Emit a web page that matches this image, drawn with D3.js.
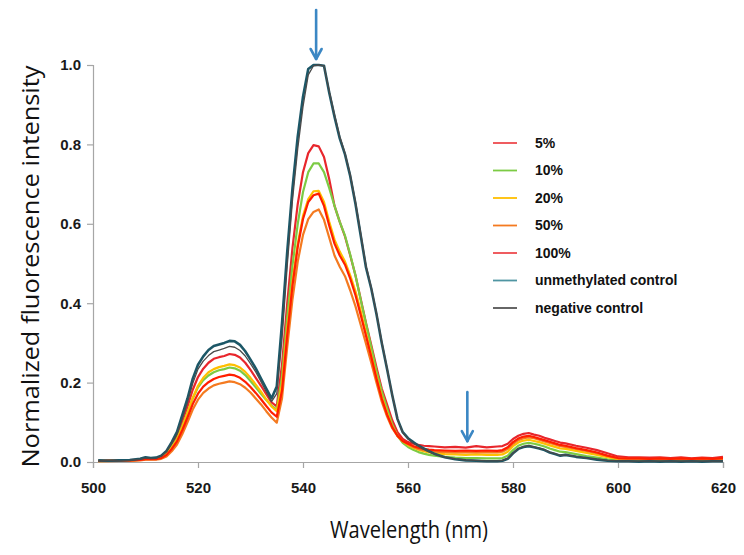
<!DOCTYPE html>
<html>
<head>
<meta charset="utf-8">
<script src="https://cdn.jsdelivr.net/npm/d3@7"></script>
<style>
  html, body { margin: 0; padding: 0; background: #fff; }
  svg { display: block; }
</style>
</head>
<body>
<svg id="chart" width="744" height="555"></svg>
<script>
// ---------------- DATA ----------------
const wavelengths = [
  501,503,505,507,509,
  510,511,512,513,514,515,516,517,518,519,
  520,521,522,523,524,525,526,527,528,529,
  530,531,532,533,534,535,536,537,538,539,
  540,541,542,543,544,545,546,547,548,549,
  550,551,552,553,554,555,556,557,558,559,
  560,561,562,563,564,565,
  567,569,571,573,575,577,
  578,579,580,581,582,583,584,585,586,587,588,589,590,
  592,594,596,598,600,602,604,606,608,610,612,614,616,618,620
];

const seriesNames = ["5%", "10%", "20%", "50%", "100%", "unmethylated control", "negative control"];

const values5 = [
  0.003,0.004,0.003,0.005,0.006,
  0.009,0.008,0.009,0.013,0.024,0.044,0.066,0.102,0.140,0.182,
  0.214,0.235,0.250,0.260,0.264,0.267,0.272,0.270,0.263,0.250,
  0.232,0.212,0.192,0.171,0.150,0.140,0.245,0.400,0.540,0.650,
  0.730,0.778,0.798,0.795,0.768,0.712,0.645,0.605,0.568,0.520,
  0.470,0.410,0.350,0.295,0.238,0.185,0.145,0.105,0.075,0.058,
  0.050,0.046,0.043,0.041,0.040,0.039,
  0.037,0.038,0.036,0.040,0.037,0.039,
  0.040,0.046,0.058,0.066,0.071,0.073,0.069,0.066,0.061,0.057,0.053,0.049,0.047,
  0.041,0.036,0.030,0.022,0.014,0.012,0.012,0.011,0.012,0.010,0.012,0.009,0.011,0.010,0.013
];
const values10 = [
  0.003,0.003,0.004,0.004,0.006,
  0.008,0.008,0.009,0.012,0.021,0.038,0.058,0.090,0.124,0.160,
  0.188,0.206,0.218,0.226,0.231,0.234,0.238,0.236,0.230,0.219,
  0.204,0.188,0.172,0.156,0.142,0.132,0.215,0.365,0.495,0.600,
  0.680,0.730,0.752,0.752,0.730,0.690,0.645,0.605,0.570,0.522,
  0.470,0.408,0.348,0.290,0.230,0.178,0.135,0.095,0.066,0.048,
  0.038,0.031,0.025,0.021,0.018,0.016,
  0.013,0.011,0.010,0.010,0.009,0.009,
  0.010,0.016,0.030,0.041,0.046,0.048,0.046,0.043,0.039,0.034,0.030,0.026,0.025,
  0.020,0.015,0.011,0.007,0.004,0.004,0.003,0.004,0.003,0.004,0.003,0.004,0.003,0.004,0.004
];
const values20 = [
  0.002,0.003,0.003,0.004,0.005,
  0.007,0.007,0.008,0.011,0.020,0.036,0.056,0.088,0.124,0.162,
  0.192,0.212,0.226,0.234,0.239,0.242,0.246,0.244,0.238,0.227,
  0.212,0.195,0.177,0.158,0.140,0.128,0.195,0.335,0.455,0.550,
  0.620,0.662,0.682,0.683,0.655,0.605,0.560,0.530,0.505,0.470,
  0.430,0.380,0.325,0.270,0.215,0.165,0.125,0.090,0.066,0.052,
  0.043,0.036,0.031,0.027,0.024,0.022,
  0.020,0.019,0.018,0.019,0.018,0.018,
  0.019,0.026,0.040,0.049,0.054,0.056,0.053,0.050,0.046,0.042,0.038,0.034,0.033,
  0.028,0.023,0.018,0.012,0.007,0.006,0.006,0.006,0.005,0.006,0.005,0.006,0.005,0.006,0.006
];
const values50 = [
  0.002,0.002,0.003,0.003,0.004,
  0.006,0.006,0.006,0.008,0.014,0.027,0.044,0.070,0.100,0.132,
  0.157,0.174,0.185,0.193,0.197,0.200,0.203,0.201,0.196,0.187,
  0.175,0.160,0.145,0.128,0.112,0.099,0.160,0.290,0.410,0.505,
  0.572,0.612,0.630,0.636,0.610,0.565,0.520,0.492,0.468,0.432,
  0.392,0.345,0.298,0.250,0.200,0.152,0.115,0.085,0.065,0.052,
  0.045,0.038,0.033,0.030,0.028,0.026,
  0.025,0.024,0.025,0.024,0.025,0.024,
  0.026,0.033,0.046,0.055,0.060,0.062,0.060,0.056,0.052,0.048,0.044,0.040,0.038,
  0.033,0.028,0.022,0.015,0.009,0.008,0.008,0.007,0.008,0.007,0.008,0.007,0.008,0.007,0.008
];
const values100 = [
  0.003,0.003,0.004,0.004,0.005,
  0.007,0.007,0.007,0.010,0.018,0.033,0.052,0.080,0.112,0.146,
  0.172,0.190,0.201,0.209,0.214,0.217,0.220,0.218,0.212,0.202,
  0.189,0.174,0.158,0.141,0.125,0.114,0.180,0.320,0.445,0.542,
  0.612,0.655,0.672,0.676,0.645,0.595,0.550,0.520,0.497,0.462,
  0.420,0.370,0.318,0.265,0.210,0.160,0.120,0.088,0.066,0.053,
  0.046,0.040,0.036,0.033,0.031,0.030,
  0.029,0.028,0.029,0.028,0.029,0.028,
  0.030,0.037,0.050,0.059,0.064,0.066,0.063,0.059,0.055,0.051,0.047,0.043,0.041,
  0.035,0.030,0.024,0.016,0.010,0.009,0.009,0.008,0.009,0.008,0.009,0.008,0.009,0.008,0.010
];
const valuesUnmethylated = [
  0.004,0.003,0.004,0.005,0.008,
  0.012,0.010,0.011,0.016,0.028,0.050,0.076,0.118,0.160,0.210,
  0.245,0.266,0.282,0.292,0.296,0.300,0.305,0.304,0.295,0.279,
  0.258,0.236,0.210,0.185,0.160,0.190,0.350,0.530,0.690,0.820,
  0.920,0.990,1.000,1.000,0.998,0.930,0.870,0.815,0.775,0.720,
  0.650,0.570,0.490,0.437,0.372,0.300,0.235,0.168,0.108,0.075,
  0.060,0.050,0.041,0.034,0.027,0.021,
  0.012,0.007,0.004,0.003,0.002,0.002,
  0.003,0.008,0.022,0.033,0.038,0.040,0.037,0.034,0.030,0.024,0.020,0.016,0.018,
  0.013,0.010,0.006,0.003,0.002,0.002,0.001,0.002,0.001,0.002,0.001,0.002,0.001,0.002,0.002
];
const valuesNegative = [
  0.003,0.004,0.003,0.004,0.007,
  0.010,0.009,0.010,0.015,0.026,0.047,0.070,0.110,0.150,0.198,
  0.234,0.254,0.268,0.278,0.282,0.286,0.291,0.289,0.281,0.267,
  0.248,0.227,0.202,0.177,0.152,0.172,0.310,0.495,0.660,0.790,
  0.895,0.975,0.998,1.000,0.998,0.935,0.875,0.820,0.778,0.724,
  0.655,0.575,0.495,0.440,0.375,0.303,0.237,0.169,0.108,0.074,
  0.058,0.048,0.040,0.033,0.026,0.020,
  0.012,0.008,0.005,0.004,0.003,0.003,
  0.004,0.009,0.022,0.034,0.039,0.041,0.038,0.035,0.031,0.025,0.021,0.017,0.018,
  0.014,0.010,0.007,0.004,0.003,0.002,0.002,0.002,0.002,0.002,0.002,0.002,0.002,0.002,0.002
];

const xTicks = [500, 520, 540, 560, 580, 600, 620];
const yTicks = [0.0, 0.2, 0.4, 0.6, 0.8, 1.0];
const arrowWavelengths = [542.5, 571.3];   // annotation arrows
const arrowLevels = [1.0, 0.045];           // value level the arrow points at

// ---------------- STYLE ----------------
const colors = ["#e8262c", "#7ccb44", "#ffbf00", "#f47a20", "#ff1e00", "#1c5767", "#4a4a4a"];
const legendColors = ["#ee4a4f", "#7ccb44", "#ffbf00", "#f47a20", "#ee4a4f", "#4f95a2", "#555555"];
const widths = [2.2, 2.2, 2.2, 2.2, 2.2, 2.6, 1.3];
const allValues = [values5, values10, values20, values50, values100, valuesUnmethylated, valuesNegative];

const svg = d3.select("#chart");
const margin = { left: 93, right: 21, top: 65, bottom: 93 };
const W = 744, H = 555;

const x = d3.scaleLinear().domain([500, 620]).range([margin.left, W - margin.right]);
const y = d3.scaleLinear().domain([0, 1]).range([H - margin.bottom, margin.top]);

const axisColor = "#a6a6a6";
const tickFont = "'Liberation Sans Narrow', 'Liberation Sans', Arial, sans-serif";

// Y axis
const yAxis = svg.append("g")
  .attr("transform", `translate(${margin.left},0)`)
  .call(d3.axisLeft(y).tickValues(yTicks).tickFormat(d3.format(".1f")).tickSize(6).tickPadding(6));
// X axis
const xAxis = svg.append("g")
  .attr("transform", `translate(0,${y(0)})`)
  .call(d3.axisBottom(x).tickValues(xTicks).tickFormat(d3.format("d")).tickSize(6).tickPadding(14));

[yAxis, xAxis].forEach(g => {
  g.selectAll("path.domain").attr("stroke", axisColor).attr("stroke-width", 1.2);
  g.selectAll(".tick line").attr("stroke", axisColor).attr("stroke-width", 1.2);
  g.selectAll(".tick text")
    .attr("fill", "#1a1a1a")
    .style("font-family", tickFont)
    .style("font-weight", "bold")
    .style("font-size", "15px");
});

// Lines
const line = d3.line()
  .x((d, i) => x(wavelengths[i]))
  .y(d => y(d))
  .curve(d3.curveLinear);

const gLines = svg.append("g");
allValues.forEach((vals, k) => {
  gLines.append("path")
    .datum(vals)
    .attr("fill", "none")
    .attr("stroke", colors[k])
    .attr("stroke-width", widths[k])
    .attr("stroke-linejoin", "round")
    .attr("d", line);
});

// Arrows
const arrowColor = "#3b87c4";
arrowWavelengths.forEach((w, i) => {
  const ax = x(w);
  const tipY = y(arrowLevels[i]) - (i === 0 ? 6 : 3);
  const topY = tipY - 49;
  const g = svg.append("g").attr("stroke", arrowColor).attr("stroke-width", 2.6)
    .attr("fill", "none").attr("stroke-linecap", "round");
  g.append("line").attr("x1", ax).attr("x2", ax).attr("y1", topY).attr("y2", tipY);
  g.append("path").attr("d", `M${ax - 5.5},${tipY - 10} L${ax},${tipY} L${ax + 5.5},${tipY - 10}`)
    .attr("stroke-linejoin", "round");
});

// Legend
const legend = svg.append("g").attr("transform", "translate(493,143)");
seriesNames.forEach((name, k) => {
  const row = legend.append("g").attr("transform", `translate(0,${k * 27.5})`);
  row.append("line").attr("x1", 0).attr("x2", 24).attr("y1", 0).attr("y2", 0)
    .attr("stroke", legendColors[k]).attr("stroke-width", 1.8);
  row.append("text").attr("x", 42).attr("y", 0).attr("dy", "0.35em")
    .text(name)
    .attr("fill", "#111")
    .style("font-family", "'Liberation Sans', Arial, sans-serif")
    .style("font-weight", "bold")
    .style("font-size", "14px");
});

// Axis titles
svg.append("text")
  .attr("x", 409)
  .attr("y", 538)
  .attr("text-anchor", "middle")
  .attr("fill", "#111")
  .attr("textLength", 158)
  .attr("lengthAdjust", "spacingAndGlyphs")
  .style("font-family", "'Open Sans', 'Noto Sans', sans-serif")
  .style("font-size", "24px")
  .text("Wavelength (nm)");

svg.append("text")
  .attr("transform", `translate(39,${(y(0) + y(1)) / 2 + 3}) rotate(-90)`)
  .attr("text-anchor", "middle")
  .attr("fill", "#111")
  .attr("textLength", 402)
  .attr("lengthAdjust", "spacingAndGlyphs")
  .style("font-family", "'Open Sans', 'Noto Sans', sans-serif")
  .style("font-size", "24px")
  .text("Normalized fluorescence intensity");
</script>
</body>
</html>
